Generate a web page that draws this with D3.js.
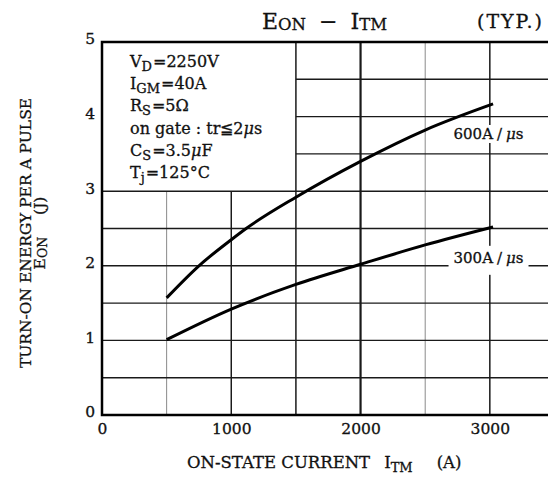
<!DOCTYPE html>
<html>
<head>
<meta charset="utf-8">
<script src="https://cdn.jsdelivr.net/npm/d3@7"></script>
<style>
  body { margin: 0; background: #fff; }
  text { font-family: "DejaVu Serif", serif; fill: #111; stroke: #111; stroke-width: 0.3px; }
</style>
</head>
<body>
<div id="chart"></div>
<script>
// values
var current600 = [500, 750, 1000, 1115, 1500, 2000, 2500, 3025];
var energy600  = [1.57, 2.0, 2.35, 2.5, 2.92, 3.40, 3.82, 4.17];
var current300 = [500, 1000, 1500, 2000, 2500, 3025];
var energy300  = [1.01, 1.42, 1.75, 2.02, 2.28, 2.52];

var xTicks = [0, 1000, 2000, 3000];
var yTicks = [0, 1, 2, 3, 4, 5];
var xGrid = [500, 1000, 1500, 2000, 2500, 3000];
var yGrid = [0.5, 1, 1.5, 2, 2.5, 3, 3.5, 4, 4.5];

var conditions = [
  ["V", "D", "=2250V"],
  ["I", "GM", "=40A"],
  ["R", "S", "=5\u03A9"],
  ["on gate : tr\u22662\u03BCs", "", ""],
  ["C", "S", "=3.5\u03BCF"],
  ["T", "j", "=125\u00B0C"]
];

var W = 549, H = 481;
var margin = {top: 42, right: 1, bottom: 66, left: 102};

var x = d3.scaleLinear().domain([0, 3450]).range([margin.left, W - margin.right]);
var y = d3.scaleLinear().domain([0, 5]).range([H - margin.bottom, margin.top]);

var svg = d3.select("#chart").append("svg")
    .attr("width", W)
    .attr("height", H);

// grid, with the empty box in the upper left for the conditions
svg.append("g").selectAll("line")
    .data(xGrid)
  .enter().append("line")
    .attr("x1", function(d) { return x(d); })
    .attr("x2", function(d) { return x(d); })
    .attr("y1", y(0))
    .attr("y2", function(d) { return d < 1500 ? y(3) : y(5); })
    .attr("stroke", function(d) { return (d == 500 || d == 2500) ? "#8a8a8a" : "#1a1a1a"; })
    .attr("stroke-width", function(d) { return d == 2000 ? 2.2 : ((d == 500 || d == 2500) ? 1 : 1.5); });

svg.append("g").selectAll("line")
    .data(yGrid)
  .enter().append("line")
    .attr("x1", function(d) { return d > 3 ? x(1500) : x(0); })
    .attr("x2", x(3450))
    .attr("y1", function(d) { return y(d); })
    .attr("y2", function(d) { return y(d); })
    .attr("stroke", "#1a1a1a")
    .attr("stroke-width", 1.4);

// curves
var line = d3.line()
    .x(function(d) { return x(d[0]); })
    .y(function(d) { return y(d[1]); })
    .curve(d3.curveMonotoneX);

var series = [d3.zip(current600, energy600), d3.zip(current300, energy300)];

svg.append("g").selectAll("path")
    .data(series)
  .enter().append("path")
    .attr("d", line)
    .attr("fill", "none")
    .attr("stroke", "#000")
    .attr("stroke-width", 3);

// frame
svg.append("path")
    .attr("d", "M" + x(3450) + "," + y(5) + "H" + x(0) + "V" + y(0) + "H" + x(3450))
    .attr("fill", "none")
    .attr("stroke", "#000")
    .attr("stroke-width", 2.5);

// axes (labels only)
var xAxis = d3.axisBottom(x).tickValues(xTicks).tickFormat(d3.format("d")).tickSize(0).tickPadding(8);
var yAxis = d3.axisLeft(y).tickValues(yTicks).tickFormat(d3.format("d")).tickSize(0).tickPadding(6);

var gx = svg.append("g").attr("transform", "translate(0," + y(0) + ")").call(xAxis);
var gy = svg.append("g").attr("transform", "translate(" + (x(0) - 1) + ",-3)").call(yAxis);
gx.select(".domain").remove();
gy.select(".domain").remove();
gx.selectAll("text").style("font-family", "DejaVu Serif").style("font-size", "15.5px").attr("fill", "#111");
gy.selectAll("text").style("font-family", "DejaVu Serif").style("font-size", "15.5px").attr("fill", "#111");

// write a string, setting every mu in italics
function withMu(sel, s) {
  s.split("\u03BC").forEach(function(part, i) {
    if (i > 0) sel.append("tspan").style("font-style", "italic").text("\u03BC");
    if (part) sel.append("tspan").text(part);
  });
}

// curve labels with white backing
function curveLabel(txt, cx, cy, padX, padTop, padBot) {
  var g = svg.append("g");
  var r = g.append("rect").attr("fill", "#fff");
  var t = g.append("text")
      .attr("x", cx)
      .attr("y", cy)
      .attr("text-anchor", "middle")
      .style("font-size", "15px");
  t.append("tspan").text(txt.slice(0, 4));
  t.append("tspan").attr("dx", 4).text("/");
  t.append("tspan").attr("dx", 4).style("font-style", "italic").text("\u03BC");
  t.append("tspan").text("s");
  var b = t.node().getBBox();
  r.attr("x", b.x - padX).attr("y", b.y - padTop)
   .attr("width", b.width + 2 * padX).attr("height", b.height + padTop + padBot);
}
curveLabel("600A", x(2990), y(3.7), 3, 0, 0);
curveLabel("300A", x(2990), y(2.04), 5, 3, 8);

// conditions block
var cond = svg.append("g");
conditions.forEach(function(c, i) {
  var t = cond.append("text")
      .attr("x", 130)
      .attr("y", 67 + i * 22.2)
      .style("font-size", "16px");
  if (c[1]) {
    t.append("tspan").text(c[0]);
    t.append("tspan").attr("dy", 4).style("font-size", "13px").text(c[1]);
    var rest = t.append("tspan").attr("dy", -4).attr("dx", 1);
    withMu(rest, c[2]);
  } else {
    withMu(t, c[0]);
  }
});

// title
var title = svg.append("text").attr("x", 262).attr("y", 29).style("font-size", "22px");
title.append("tspan").text("E");
title.append("tspan").attr("dy", 1).style("font-size", "16.5px").text("ON");
title.append("tspan").attr("dy", -1).attr("dx", 13).text("\u2212");
title.append("tspan").attr("dx", 13).text("I");
title.append("tspan").attr("dy", 1).style("font-size", "16.5px").text("TM");

svg.append("text").attr("x", 544).attr("y", 28)
    .attr("text-anchor", "end")
    .style("font-size", "19px")
    .style("letter-spacing", "2px")
    .text("(TYP.)");

// x title
var xt = svg.append("text").attr("x", 187).attr("y", 468).style("font-size", "16.5px");
xt.append("tspan").text("ON-STATE CURRENT");
xt.append("tspan").attr("dx", 14).text("I");
xt.append("tspan").attr("dy", 4).style("font-size", "13px").text("TM");
xt.append("tspan").attr("dy", -4).attr("dx", 24).text("(A)");

// y title
var yt = svg.append("g").attr("transform", "translate(31,233) rotate(-90)");
yt.append("text")
    .attr("text-anchor", "middle")
    .style("font-size", "15.5px")
    .text("TURN-ON ENERGY PER A PULSE");
var yt2 = yt.append("text")
    .attr("y", 14)
    .attr("text-anchor", "middle")
    .style("font-size", "15.5px");
yt2.append("tspan").text("E");
yt2.append("tspan").attr("dy", 2).style("font-size", "12.5px").text("ON");
yt2.append("tspan").attr("dy", -2).attr("dx", 22).text("(J)");
</script>
</body>
</html>
